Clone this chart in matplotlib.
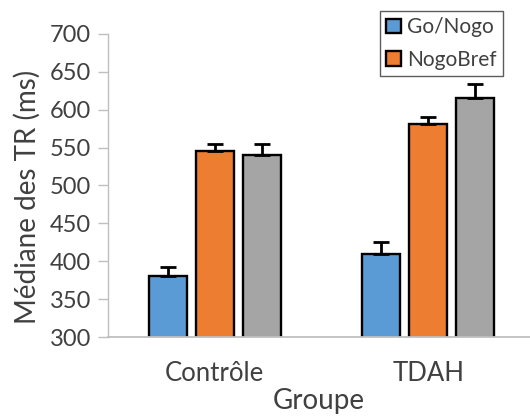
import matplotlib
matplotlib.use("Agg")
import matplotlib.pyplot as plt
import numpy as np

plt.rcParams["font.family"] = ["Lato", "DejaVu Sans"]

groups = ["Contrôle", "TDAH"]
series_names = ["Go/Nogo", "NogoBref", "Autre"]
medians = {
    "Go/Nogo": [380, 409],
    "NogoBref": [545, 581],
    "Autre": [540, 616],
}
errors = {
    "Go/Nogo": [13, 17],
    "NogoBref": [10, 10],
    "Autre": [15, 18],
}
colors = {"Go/Nogo": "#5B9BD5", "NogoBref": "#ED7D31", "Autre": "#A5A5A5"}
yticks = [300, 350, 400, 450, 500, 550, 600, 650, 700]

TEXT = "#404040"
AXIS = "#BFBFBF"

fig = plt.figure(figsize=(5.30, 4.17), dpi=100)
ax = fig.add_axes([108 / 530, 1 - 337 / 417, 422 / 530, (337 - 34) / 417])

x = np.arange(len(groups))
width = 0.176
step = 0.22
for i, name in enumerate(series_names):
    pos = x + (i - 1) * step
    ax.bar(pos, medians[name], width=width, bottom=0, color=colors[name],
           edgecolor="black", linewidth=1.7, zorder=2,
           label=name if name != "Autre" else "_nolegend_")
    ax.errorbar(pos, medians[name], yerr=[[0] * len(groups), errors[name]],
                fmt="none", ecolor="black", elinewidth=2, capsize=6,
                capthick=2, zorder=3)

ax.set_ylim(300, 700)
ax.set_xlim(-0.5, 1.5 - 5 / 213)
ax.set_yticks(yticks)
ax.set_xticks(x)
ax.set_xticklabels(groups)
ax.tick_params(axis="y", labelsize=17, colors=TEXT, length=7, width=1,
               color=AXIS, pad=5)
ax.tick_params(axis="x", labelsize=18.5, colors=TEXT, length=0, pad=17)
for side in ["top", "right"]:
    ax.spines[side].set_visible(False)
ax.spines["left"].set_color(AXIS)
ax.spines["bottom"].set_color(AXIS)
ax.spines["left"].set_linewidth(1)
ax.spines["bottom"].set_linewidth(1.3)

ax.set_ylabel("Médiane des TR (ms)", fontsize=20, color=TEXT)
ax.yaxis.set_label_coords(-0.16, 0.462)
ax.set_xlabel("Groupe", fontsize=20, color=TEXT, labelpad=2)

leg = ax.legend(loc="upper left", bbox_to_anchor=(380 / 530, 1 - 11 / 417),
                bbox_transform=fig.transFigure, fontsize=15, frameon=True,
                fancybox=False, edgecolor="#333333", handlelength=0.7,
                handleheight=0.7, handletextpad=0.3, labelspacing=0.6,
                borderpad=0.3, borderaxespad=0)
leg.get_frame().set_linewidth(1)
for t in leg.get_texts():
    t.set_color(TEXT)

fig.savefig("out.png", dpi=100)
